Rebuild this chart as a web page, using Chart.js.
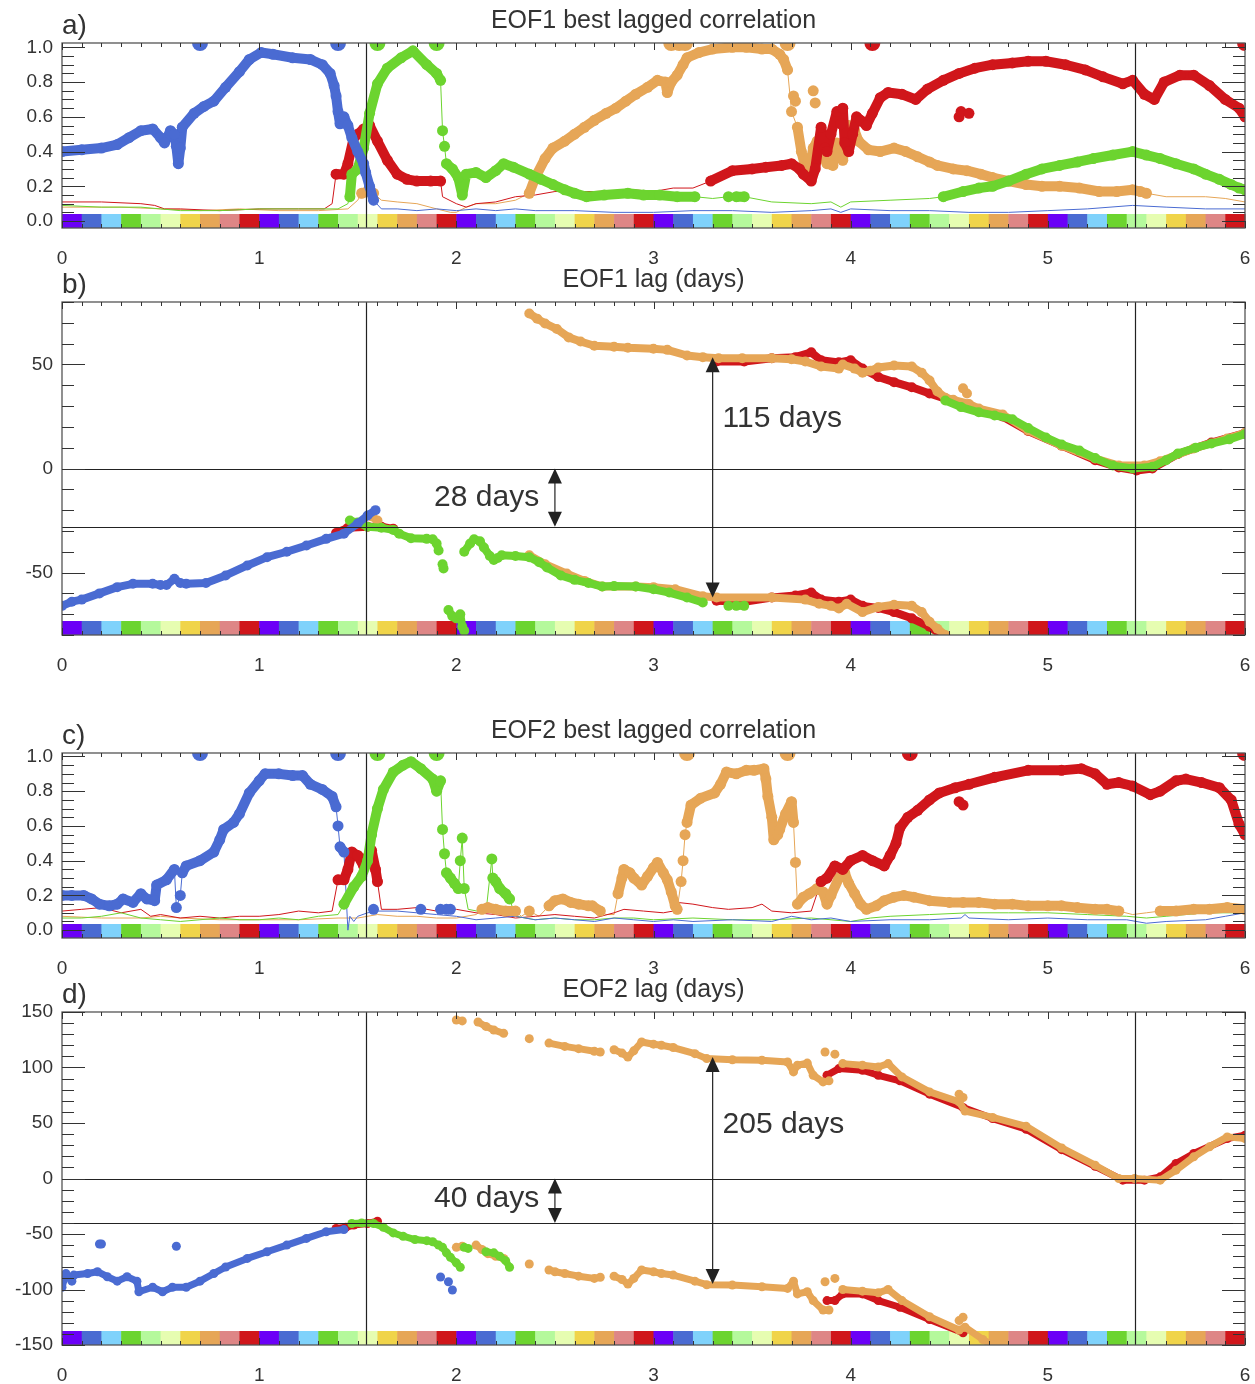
<!DOCTYPE html>
<html>
<head>
<meta charset="utf-8">
<script src="https://cdn.jsdelivr.net/npm/chart.js@4.4.1/dist/chart.umd.min.js"></script>
<style>
  body { margin: 0; background: #fff; width: 1255px; height: 1384px; position: relative; overflow: hidden; }
  canvas { position: absolute; left: 0; }
</style>
</head>
<body>
<canvas id="pa" width="1255" height="272" style="top:0px"></canvas>
<canvas id="pb" width="1255" height="434" style="top:250px"></canvas>
<canvas id="pc" width="1255" height="300" style="top:684px"></canvas>
<canvas id="pd" width="1255" height="425" style="top:960px"></canvas>
<script>
// ---- data ----
// [x, y, t]  t: 1 = best (thick dots), 2 = dot with thin joins, 0 = thin line only
const xTicks = [0, 1, 2, 3, 4, 5, 6];
const stripStep = 0.1;
const stripColors = ['#6b00f7', '#4a6bd2', '#7fd2fb', '#6cd42f', '#b5f99c', '#e6fdb1', '#f0d44a', '#e6a657', '#de8686', '#d0161b'];
const vLines = [1.54, 5.44];

// a) EOF1 best lagged correlation
const aBlue = [[0,0.40,1],[0.1,0.41,1],[0.2,0.42,1],[0.28,0.44,1],[0.34,0.48,1],[0.40,0.52,1],[0.46,0.53,1],[0.50,0.48,1],[0.52,0.45,1],[0.55,0.52,1],[0.57,0.50,1],[0.58,0.43,1],[0.59,0.33,1],[0.60,0.42,1],[0.61,0.54,1],[0.67,0.62,1],[0.72,0.66,1],[0.77,0.69,1],[0.83,0.77,1],[0.90,0.86,1],[0.95,0.93,1],[1.01,0.97,1],[1.07,0.96,1],[1.17,0.94,1],[1.26,0.93,1],[1.32,0.90,1],[1.36,0.85,1],[1.38,0.78,1],[1.39,0.72,1],[1.40,0.63,1],[1.41,0.56,1],[1.43,0.60,1],[1.45,0.55,1],[1.47,0.48,1],[1.50,0.40,1],[1.53,0.33,1],[1.54,0.28,1],[1.56,0.20,1],[1.58,0.12,1],[1.62,0.07,0],[1.7,0.07,0],[1.8,0.06,0],[1.9,0.07,0],[2.0,0.06,0],[2.1,0.07,0],[2.2,0.06,0],[2.3,0.07,0],[2.4,0.06,0],[2.6,0.06,0],[2.8,0.05,0],[3.0,0.05,0],[3.2,0.06,0],[3.4,0.06,0],[3.6,0.05,0],[3.8,0.06,0],[3.9,0.07,0],[3.95,0.05,0],[4.0,0.07,0],[4.2,0.06,0],[4.4,0.06,0],[4.6,0.05,0],[4.8,0.05,0],[5.0,0.06,0],[5.2,0.07,0],[5.43,0.09,0],[5.6,0.08,0],[5.8,0.07,0],[6.0,0.07,0]];
const aRed = [[0,0.11,0],[0.2,0.11,0],[0.4,0.10,0],[0.47,0.09,0],[0.52,0.07,0],[0.6,0.07,0],[0.8,0.06,0],[1.0,0.07,0],[1.2,0.07,0],[1.33,0.07,0],[1.37,0.10,0],[1.39,0.27,1],[1.43,0.27,1],[1.45,0.33,1],[1.48,0.48,1],[1.50,0.50,1],[1.53,0.53,1],[1.56,0.55,1],[1.60,0.46,1],[1.65,0.35,1],[1.70,0.27,1],[1.75,0.24,1],[1.80,0.23,1],[1.87,0.23,1],[1.92,0.23,1],[1.93,0.14,0],[2.0,0.10,0],[2.05,0.08,0],[2.1,0.10,0],[2.2,0.11,0],[2.3,0.14,0],[2.4,0.15,0],[2.5,0.17,0],[2.7,0.17,0],[2.9,0.18,0],[3.0,0.17,0],[3.1,0.19,0],[3.2,0.19,0],[3.29,0.23,1],[3.40,0.29,1],[3.50,0.30,1],[3.57,0.31,1],[3.65,0.32,1],[3.70,0.33,1],[3.74,0.30,1],[3.76,0.27,1],[3.80,0.23,1],[3.82,0.30,1],[3.85,0.54,1],[3.87,0.42,1],[3.88,0.40,1],[3.90,0.50,1],[3.93,0.63,1],[3.95,0.56,1],[3.96,0.65,1],[3.97,0.45,1],[3.99,0.40,1],[4.01,0.50,1],[4.03,0.60,1],[4.05,0.58,1],[4.08,0.55,1],[4.11,0.62,1],[4.15,0.71,1],[4.19,0.74,1],[4.26,0.73,1],[4.33,0.70,1],[4.39,0.76,1],[4.47,0.81,1],[4.55,0.85,1],[4.63,0.88,1],[4.72,0.90,1],[4.82,0.91,1],[4.90,0.92,1],[4.99,0.92,1],[5.09,0.90,1],[5.19,0.87,1],[5.28,0.83,1],[5.38,0.79,1],[5.43,0.81,1],[5.49,0.73,1],[5.54,0.70,1],[5.59,0.80,1],[5.67,0.84,1],[5.74,0.84,1],[5.82,0.78,1],[5.90,0.70,1],[5.97,0.65,1],[6.0,0.60,1]];
const aGreen = [[0,0.09,0],[0.2,0.08,0],[0.4,0.08,0],[0.5,0.07,0],[0.6,0.06,0],[0.8,0.06,0],[1.0,0.07,0],[1.2,0.07,0],[1.4,0.07,0],[1.45,0.10,0],[1.46,0.14,1],[1.47,0.27,1],[1.50,0.30,1],[1.53,0.42,1],[1.56,0.62,1],[1.60,0.79,1],[1.65,0.88,1],[1.72,0.94,1],[1.78,0.98,1],[1.85,0.90,1],[1.90,0.85,1],[1.92,0.81,1],[1.93,0.52,2],[1.94,0.43,2],[1.95,0.33,1],[1.98,0.30,1],[2.01,0.25,1],[2.03,0.15,1],[2.05,0.27,1],[2.10,0.28,1],[2.15,0.25,1],[2.20,0.29,1],[2.24,0.33,1],[2.29,0.31,1],[2.37,0.27,1],[2.43,0.24,1],[2.49,0.21,1],[2.55,0.18,1],[2.60,0.16,1],[2.66,0.14,1],[2.75,0.15,1],[2.87,0.16,1],[2.95,0.15,1],[3.03,0.15,1],[3.12,0.14,1],[3.21,0.14,1],[3.30,0.13,0],[3.38,0.14,2],[3.42,0.14,1],[3.46,0.14,1],[3.6,0.11,0],[3.8,0.10,0],[3.9,0.11,0],[3.95,0.08,0],[4.0,0.11,0],[4.2,0.12,0],[4.4,0.13,0],[4.47,0.14,1],[4.57,0.17,1],[4.65,0.19,1],[4.72,0.20,1],[4.80,0.23,1],[4.89,0.27,1],[4.97,0.30,1],[5.06,0.32,1],[5.15,0.34,1],[5.23,0.36,1],[5.33,0.38,1],[5.43,0.40,1],[5.50,0.38,1],[5.57,0.36,1],[5.65,0.33,1],[5.74,0.30,1],[5.80,0.27,1],[5.87,0.24,1],[5.93,0.21,1],[5.97,0.19,1],[6.0,0.18,1]];
const aOrange = [[0,0.08,0],[0.3,0.08,0],[0.5,0.07,0],[0.7,0.06,0],[0.9,0.07,0],[1.1,0.06,0],[1.3,0.06,0],[1.45,0.07,0],[1.50,0.12,0],[1.52,0.16,1],[1.55,0.17,1],[1.58,0.16,1],[1.62,0.12,0],[1.7,0.11,0],[1.8,0.10,0],[1.9,0.07,0],[1.97,0.05,0],[2.0,0.05,0],[2.05,0.08,0],[2.1,0.10,0],[2.2,0.10,0],[2.3,0.12,0],[2.37,0.16,1],[2.40,0.25,1],[2.45,0.36,1],[2.49,0.42,1],[2.55,0.46,1],[2.60,0.50,1],[2.65,0.54,1],[2.70,0.58,1],[2.76,0.62,1],[2.81,0.65,1],[2.86,0.69,1],[2.91,0.73,1],[2.97,0.77,1],[3.02,0.81,1],[3.06,0.80,1],[3.07,0.74,1],[3.09,0.80,1],[3.12,0.84,1],[3.15,0.90,1],[3.17,0.94,1],[3.23,0.97,1],[3.30,0.99,1],[3.40,1.0,1],[3.47,1.0,1],[3.55,0.99,1],[3.60,0.99,1],[3.64,0.96,1],[3.66,0.93,1],[3.68,0.87,1],[3.70,0.63,2],[3.73,0.54,1],[3.75,0.40,1],[3.77,0.31,1],[3.79,0.30,1],[3.81,0.42,1],[3.83,0.46,1],[3.86,0.37,1],[3.88,0.33,1],[3.91,0.32,1],[3.93,0.45,1],[3.96,0.35,1],[3.99,0.55,1],[4.02,0.52,1],[4.04,0.46,1],[4.09,0.41,1],[4.15,0.40,1],[4.22,0.42,1],[4.28,0.40,1],[4.34,0.37,1],[4.40,0.34,1],[4.44,0.32,1],[4.52,0.30,1],[4.59,0.29,1],[4.66,0.27,1],[4.72,0.25,1],[4.80,0.23,1],[4.89,0.21,1],[4.97,0.20,1],[5.06,0.20,1],[5.16,0.19,1],[5.26,0.17,1],[5.35,0.17,1],[5.43,0.18,1],[5.47,0.17,1],[5.50,0.16,1],[5.6,0.14,0],[5.8,0.14,0],[5.9,0.13,0],[6.0,0.11,0]];
const aRedOut = [[4.55,0.60],[4.56,0.63],[4.60,0.62]];
const aOrangeOut = [[3.71,0.72],[3.72,0.69],[3.81,0.75],[3.82,0.68]];
const aBlueTop = [0.70, 1.40];
const aGreenTop = [1.60, 1.90];
const aOrangeTop = [3.09, 3.13, 3.16, 3.68];
const aRedTop = [4.11, 6.0];

// b) EOF1 lag (days)
const bBlue = [[0,-66],[0.05,-64],[0.1,-63],[0.19,-60],[0.28,-57],[0.36,-55.4],[0.46,-55.4],[0.50,-56],[0.53,-56],[0.57,-53],[0.60,-55],[0.63,-55.4],[0.73,-55],[0.83,-51.4],[0.94,-46.6],[1.04,-42.6],[1.14,-40],[1.24,-37],[1.34,-33.8],[1.43,-31.3],[1.50,-26.4],[1.55,-22.6],[1.59,-20]];
const bRed = [[1.39,-31],[1.45,-28.5],[1.55,-28],[1.62,-28],[1.68,-29],[2.5,null],[3.32,-63.5],[3.46,-64],[3.6,-62],[3.72,-61],[3.80,-59.6],[3.85,-63],[3.94,-64],[4.0,-63],[4.06,-66],[4.14,-67],[4.22,-69],[4.31,-72],[4.40,-76],[4.46,-80],[4.5,null],[3.32,51.4],[3.46,51.4],[3.6,53],[3.72,53.5],[3.80,55.8],[3.85,52],[3.94,51],[4.0,52],[4.06,48],[4.14,44],[4.22,41.5],[4.31,39],[4.40,36],[4.48,33.5],[4.56,31],[4.65,28],[4.77,25],[4.90,18],[5.07,11],[5.24,4],[5.36,0.5],[5.45,-1],[5.53,0],[5.66,7],[5.83,12.5],[6.0,17]];
const bOrange = [[1.57,-23],[1.60,-25],[2.0,null],[2.37,-41.7],[2.45,-46],[2.56,-50.5],[2.65,-54],[2.74,-56.7],[2.91,-56.7],[3.00,-57],[3.11,-58],[3.25,-61.4],[3.32,-62],[3.60,-62],[3.77,-63],[3.84,-65],[3.90,-66],[3.94,-67.3],[3.98,-65],[4.06,-69],[4.14,-66.5],[4.22,-65.5],[4.31,-66],[4.36,-69],[4.40,-73.6],[4.44,-77],[4.48,-80],[4.5,null],[2.37,74.5],[2.41,72],[2.45,69.7],[2.51,67],[2.57,63],[2.63,61],[2.70,59],[2.80,58.5],[2.87,58],[3.00,57.5],[3.07,57],[3.17,54.3],[3.25,53.5],[3.33,53],[3.45,53],[3.60,53],[3.70,52.5],[3.77,51.4],[3.85,49],[3.94,48],[3.96,50],[4.02,48],[4.06,46],[4.10,47],[4.14,48.5],[4.22,49.5],[4.31,49],[4.36,46],[4.40,42.3],[4.44,37],[4.48,34],[4.52,33],[4.60,31],[4.65,28.8],[4.77,26],[4.90,18.3],[5.07,11],[5.24,4.8],[5.36,1.4],[5.49,1.4],[5.57,3.5],[5.74,9.6],[5.91,14.4],[6.0,17]];
const bGreen = [[1.46,-25],[1.50,-26],[1.55,-28],[1.62,-28.5],[1.68,-29.5],[1.71,-31.3],[1.77,-33.5],[1.85,-33.8],[1.88,-34],[1.90,-36],[1.91,-39.4],[1.92,null],[1.93,-46],[1.935,-48],[1.94,null],[1.96,-68],[1.98,-71],[2.00,-72],[2.02,-70],[2.03,-76],[2.04,-78],[2.04,null],[2.04,-40],[2.07,-36],[2.09,-34],[2.12,-35],[2.14,-38],[2.17,-42],[2.19,-44],[2.21,-43],[2.23,-41.7],[2.30,-42],[2.37,-42.6],[2.42,-45],[2.46,-47.6],[2.53,-51.4],[2.60,-53.5],[2.67,-55],[2.74,-56.7],[2.80,-56.5],[2.91,-56.7],[3.00,-58],[3.08,-59.6],[3.17,-62],[3.25,-64.4],[3.3,null],[3.38,-66],[3.4,null],[3.42,-66],[3.46,-66],[3.5,null],[4.48,32.7],[4.56,29.5],[4.65,27],[4.73,25.5],[4.82,23.7],[4.90,19.5],[4.99,14.9],[5.07,11.5],[5.16,8.6],[5.24,5],[5.33,1.4],[5.43,0],[5.53,0.8],[5.60,4],[5.66,7.2],[5.75,10],[5.83,12],[5.92,14],[6.0,16.5]];
const bOrangeOut = [[4.57,38.5],[4.59,36]];
const bArrows = [[3.30, 53.4, -62], [2.50, 0, -28]];
const bNotes = [[3.35, 24, '115 days', 'left'], [2.42, -14, '28 days', 'right']];
const bHLines = [0, -28];

// c) EOF2 best lagged correlation
const cBlue = [[0,0.20,1],[0.05,0.20,1],[0.11,0.20,1],[0.15,0.18,1],[0.19,0.15,1],[0.24,0.14,1],[0.28,0.15,1],[0.31,0.18,1],[0.36,0.16,1],[0.40,0.21,1],[0.43,0.18,1],[0.47,0.17,1],[0.48,0.26,1],[0.53,0.29,1],[0.57,0.35,1],[0.58,0.13,2],[0.60,0.20,2],[0.61,0.33,1],[0.63,0.37,1],[0.70,0.40,1],[0.77,0.45,1],[0.80,0.52,1],[0.82,0.58,1],[0.87,0.62,1],[0.90,0.67,1],[0.95,0.79,1],[1.00,0.86,1],[1.03,0.90,1],[1.10,0.90,1],[1.17,0.89,1],[1.22,0.89,1],[1.26,0.84,1],[1.32,0.81,1],[1.37,0.77,1],[1.39,0.71,1],[1.40,0.60,2],[1.41,0.48,1],[1.43,0.45,1],[1.45,0.0,0],[1.46,0.08,0],[1.48,0.05,0],[1.50,0.08,0],[1.55,0.10,0],[1.6,0.11,0],[1.7,0.11,0],[1.8,0.10,0],[1.9,0.09,0],[2.0,0.08,0],[2.1,0.06,0],[2.2,0.07,0],[2.3,0.08,0],[2.4,0.06,0],[2.5,0.07,0],[2.6,0.06,0],[2.7,0.05,0],[2.8,0.07,0],[2.9,0.06,0],[3.0,0.05,0],[3.1,0.06,0],[3.2,0.05,0],[3.4,0.06,0],[3.6,0.05,0],[3.7,0.08,0],[3.8,0.06,0],[3.9,0.07,0],[4.0,0.05,0],[4.2,0.06,0],[4.4,0.06,0],[4.56,0.07,0],[4.58,0.09,0],[4.60,0.07,0],[4.8,0.06,0],[5.0,0.07,0],[5.2,0.06,0],[5.4,0.06,0],[5.5,0.04,0],[5.6,0.05,0],[5.8,0.06,0],[5.9,0.08,0],[6.0,0.10,0]];
const cRed = [[0,0.11,0],[0.1,0.12,0],[0.2,0.13,0],[0.3,0.10,0],[0.4,0.12,0],[0.45,0.08,0],[0.5,0.09,0],[0.6,0.07,0],[0.7,0.08,0],[0.8,0.07,0],[0.9,0.08,0],[1.0,0.08,0],[1.1,0.09,0],[1.2,0.11,0],[1.3,0.10,0],[1.37,0.11,0],[1.40,0.29,1],[1.43,0.29,1],[1.45,0.35,1],[1.47,0.45,1],[1.50,0.43,1],[1.53,0.37,1],[1.55,0.42,1],[1.57,0.46,1],[1.59,0.35,1],[1.60,0.28,1],[1.62,0.12,0],[1.7,0.12,0],[1.8,0.13,0],[1.9,0.11,0],[2.0,0.12,0],[2.1,0.10,0],[2.2,0.09,0],[2.3,0.07,0],[2.4,0.08,0],[2.5,0.09,0],[2.6,0.08,0],[2.7,0.07,0],[2.8,0.10,0],[2.85,0.12,0],[2.95,0.11,0],[3.05,0.10,0],[3.10,0.11,0],[3.12,0.16,0],[3.2,0.15,0],[3.3,0.13,0],[3.38,0.12,0],[3.5,0.13,0],[3.55,0.15,0],[3.6,0.11,0],[3.7,0.10,0],[3.8,0.11,0],[3.85,0.28,1],[3.88,0.30,1],[3.92,0.37,1],[3.96,0.35,1],[4.00,0.40,1],[4.06,0.43,1],[4.11,0.40,1],[4.17,0.37,1],[4.20,0.43,1],[4.23,0.50,1],[4.25,0.59,1],[4.29,0.65,1],[4.34,0.69,1],[4.40,0.75,1],[4.45,0.79,1],[4.53,0.82,1],[4.60,0.84,1],[4.73,0.88,1],[4.90,0.92,1],[5.07,0.92,1],[5.17,0.93,1],[5.24,0.90,1],[5.30,0.84,1],[5.36,0.85,1],[5.43,0.83,1],[5.52,0.78,1],[5.57,0.80,1],[5.65,0.86,1],[5.70,0.87,1],[5.78,0.85,1],[5.87,0.82,1],[5.93,0.75,1],[5.97,0.61,1],[6.0,0.55,1]];
const cGreen = [[0,0.07,0],[0.1,0.07,0],[0.2,0.08,0],[0.3,0.10,0],[0.4,0.07,0],[0.5,0.06,0],[0.6,0.05,0],[0.7,0.06,0],[0.8,0.07,0],[0.9,0.06,0],[1.0,0.06,0],[1.1,0.07,0],[1.2,0.06,0],[1.3,0.08,0],[1.4,0.09,0],[1.43,0.15,1],[1.48,0.25,1],[1.52,0.31,1],[1.55,0.40,1],[1.57,0.55,1],[1.60,0.70,1],[1.63,0.81,1],[1.68,0.91,1],[1.73,0.95,1],[1.77,0.97,1],[1.82,0.93,1],[1.88,0.87,1],[1.90,0.80,1],[1.92,0.86,1],[1.93,0.58,2],[1.94,0.44,2],[1.95,0.33,1],[1.97,0.30,1],[1.99,0.27,1],[2.01,0.24,1],[2.02,0.40,2],[2.03,0.53,2],[2.04,0.24,2],[2.06,0.12,0],[2.15,0.10,0],[2.18,0.41,2],[2.185,0.30,1],[2.20,0.28,1],[2.22,0.24,1],[2.25,0.21,1],[2.27,0.18,1],[2.3,0.08,0],[2.4,0.06,0],[2.5,0.07,0],[2.6,0.06,0],[2.7,0.06,0],[2.8,0.07,0],[2.9,0.07,0],[3.0,0.06,0],[3.2,0.07,0],[3.4,0.06,0],[3.6,0.06,0],[3.8,0.07,0],[4.0,0.05,0],[4.1,0.07,0],[4.2,0.08,0],[4.4,0.09,0],[4.6,0.10,0],[4.8,0.10,0],[5.0,0.10,0],[5.2,0.09,0],[5.4,0.08,0],[5.5,0.07,0],[5.6,0.08,0],[5.8,0.10,0],[6.0,0.10,0]];
const cOrange = [[0,0.08,0],[0.2,0.07,0],[0.4,0.07,0],[0.5,0.08,0],[0.6,0.07,0],[0.8,0.06,0],[1.0,0.06,0],[1.2,0.06,0],[1.4,0.07,0],[1.5,0.07,0],[1.6,0.09,0],[1.7,0.08,0],[1.8,0.08,0],[1.9,0.07,0],[2.0,0.07,0],[2.1,0.09,0],[2.13,0.12,1],[2.16,0.13,1],[2.20,0.12,1],[2.25,0.11,1],[2.30,0.11,1],[2.33,0.08,0],[2.37,0.11,2],[2.42,0.08,0],[2.47,0.14,1],[2.50,0.17,1],[2.54,0.18,1],[2.58,0.16,1],[2.62,0.15,1],[2.67,0.14,1],[2.69,0.14,1],[2.73,0.11,1],[2.76,0.09,0],[2.80,0.09,0],[2.82,0.21,1],[2.84,0.30,1],[2.85,0.35,1],[2.88,0.33,1],[2.90,0.30,1],[2.94,0.26,1],[2.97,0.31,1],[3.00,0.36,1],[3.02,0.39,1],[3.05,0.33,1],[3.07,0.29,1],[3.09,0.22,1],[3.11,0.14,1],[3.12,0.12,1],[3.14,0.28,2],[3.15,0.40,2],[3.16,0.55,2],[3.17,0.62,1],[3.19,0.72,1],[3.24,0.76,1],[3.31,0.79,1],[3.34,0.84,1],[3.37,0.91,1],[3.42,0.90,1],[3.47,0.92,1],[3.51,0.92,1],[3.56,0.93,1],[3.57,0.87,1],[3.58,0.77,1],[3.60,0.65,1],[3.61,0.52,1],[3.63,0.55,1],[3.64,0.58,1],[3.67,0.67,1],[3.70,0.74,1],[3.71,0.62,1],[3.72,0.39,2],[3.73,0.15,1],[3.76,0.19,1],[3.79,0.21,1],[3.83,0.24,1],[3.86,0.22,1],[3.88,0.15,1],[3.90,0.20,1],[3.94,0.30,1],[3.97,0.33,1],[3.99,0.27,1],[4.02,0.21,1],[4.05,0.15,1],[4.08,0.12,1],[4.13,0.14,1],[4.17,0.17,1],[4.22,0.19,1],[4.27,0.20,1],[4.32,0.19,1],[4.40,0.17,1],[4.50,0.16,1],[4.57,0.16,1],[4.65,0.16,1],[4.73,0.15,1],[4.82,0.15,1],[4.90,0.14,1],[5.00,0.14,1],[5.07,0.14,1],[5.15,0.13,1],[5.24,0.12,1],[5.30,0.12,1],[5.36,0.11,1],[5.43,0.09,0],[5.5,0.10,0],[5.57,0.11,1],[5.65,0.11,1],[5.74,0.12,1],[5.82,0.12,1],[5.91,0.13,1],[6.0,0.12,1]];
const cBlueOut = [[1.58,0.12],[1.82,0.12],[1.92,0.12],[1.95,0.12],[1.97,0.12]];
const cRedOut = [[4.55,0.74],[4.57,0.72]];
const cBlueTop = [0.70, 1.40];
const cGreenTop = [1.60, 1.90];
const cOrangeTop = [3.17, 3.68];
const cRedTop = [4.30, 6.0];

// d) EOF2 lag (days)
const dBlue = [[0,-98],[0.02,-85.6],[0.05,-92.5],[0.06,-87],[0.13,-85.6],[0.18,-84],[0.23,-88.5],[0.28,-92.5],[0.33,-88.5],[0.38,-92.5],[0.39,-102],[0.46,-98],[0.51,-102],[0.56,-98],[0.63,-98],[0.70,-92.5],[0.77,-85.6],[0.83,-79.7],[0.94,-72],[1.04,-66],[1.14,-60],[1.24,-54],[1.34,-48],[1.43,-46]];
const dRed = [[1.39,-45],[1.44,-44],[1.48,-42],[1.55,-40.5],[1.60,-38.5],[2.0,null],[3.88,-110],[3.92,-110],[3.96,-104],[4.06,-104],[4.14,-110],[4.25,-116],[4.40,-127],[4.57,-139],[4.58,-136],[4.6,null],[3.88,93],[3.94,99],[4.06,97.5],[4.14,93],[4.25,88],[4.40,76],[4.57,64],[4.72,54],[4.89,44.4],[5.07,26],[5.24,11],[5.38,-1.5],[5.49,-1.5],[5.57,1.5],[5.65,13.5],[5.74,22.5],[5.91,36],[6.0,39]];
const dGreen = [[1.47,-40.5],[1.52,-40],[1.58,-40.5],[1.63,-44],[1.68,-49],[1.73,-52],[1.79,-55],[1.85,-56],[1.88,-57],[1.91,-60],[1.93,-62],[1.95,-67],[1.97,-71],[2.00,-76],[2.02,-80],[2.03,null],[2.04,-62],[2.06,-63],[2.1,null],[2.15,-66],[2.19,-67],[2.22,-70],[2.25,-74],[2.27,-80]];
const dOrange = [[2.00,-62],[2.03,-61],[2.06,null],[2.10,-60],[2.13,-64],[2.16,-67.7],[2.20,-70],[2.24,-72],[2.3,null],[2.37,-77],[2.4,null],[2.47,-82.4],[2.50,-84],[2.55,-85.6],[2.62,-88],[2.70,-90],[2.73,-89],[2.76,null],[2.80,-88],[2.84,-91],[2.87,-95],[2.90,-90],[2.94,-82.4],[3.00,-84],[3.04,-85.6],[3.10,-87],[3.21,-92.5],[3.27,-95.7],[3.40,-96],[3.55,-97.5],[3.68,-99],[3.71,-92.5],[3.73,-104],[3.78,-102],[3.81,-110],[3.86,-118.5],[3.89,-118.5],[3.92,null],[3.96,-100],[4.06,-101.5],[4.14,-103],[4.19,-100],[4.26,-110],[4.40,-124.5],[4.55,-136.5],[4.58,-134],[4.67,-145],[4.72,-150],[4.8,null],[2.00,142.8],[2.03,142],[2.06,null],[2.11,141],[2.15,137],[2.19,133.8],[2.24,130.8],[2.3,null],[2.37,126],[2.4,null],[2.47,122],[2.55,119],[2.62,117],[2.70,114.6],[2.73,114],[2.76,null],[2.80,116],[2.84,113],[2.87,109.5],[2.90,115],[2.94,123],[3.00,121],[3.04,120],[3.10,118],[3.21,112.5],[3.27,108],[3.40,107],[3.55,106.5],[3.68,105],[3.71,96],[3.73,102],[3.78,104],[3.81,93],[3.86,87],[3.89,88],[3.92,null],[3.96,103.5],[4.06,102],[4.14,100.5],[4.19,103.5],[4.26,91.5],[4.40,78],[4.55,69],[4.58,60.8],[4.72,55],[4.89,47],[5.07,27.5],[5.24,12],[5.36,0],[5.44,0],[5.57,-1.5],[5.65,7.5],[5.74,19.5],[5.82,28.5],[5.91,37.5],[6.0,36]];
const dBlueOut = [[0.19,-59],[0.20,-59],[0.58,-61],[1.92,-88.7],[1.96,-93],[1.98,-100.5]];
const dOrangeOut = [[3.87,114],[3.92,112],[3.87,-93],[3.92,-90],[4.55,76],[4.57,73],[4.55,-128],[4.57,-125]];
const dArrows = [[3.30, 109.5, -95], [2.50, 0, -40]];
const dNotes = [[3.35, 48, '205 days', 'left'], [2.42, -18, '40 days', 'right']];
const dHLines = [0, -40];

// ---- drawing ----
const BLUE = '#4a6bd2', RED = '#d0161b', GREEN = '#6cd42f', ORANGE = '#e6a657';
const FONT = "'Liberation Sans', Arial, sans-serif";
const INK = '#333';

function flag(p) { return p && p.length > 2 ? p[2] : 1; }

function seriesSets(arr, color, rank, w, r, withThin) {
  const pts = arr.map(p => ({ x: p[0], y: p[1] }));
  const sets = [];
  if (withThin) {
    sets.push({ data: pts, showLine: true, borderColor: color, borderWidth: 1, pointRadius: 0, order: 20 + rank });
  }
  sets.push({
    data: pts, showLine: true, order: rank,
    borderColor: color, borderWidth: w, borderCapStyle: 'round', borderJoinStyle: 'round',
    segment: {
      borderColor: ctx => (flag(arr[ctx.p0DataIndex]) === 1 && flag(arr[ctx.p1DataIndex]) === 1) ? color : 'rgba(0,0,0,0)'
    },
    pointRadius: ctx => { const p = arr[ctx.dataIndex]; return p && flag(p) >= 1 ? r : 0; },
    pointBackgroundColor: color, pointBorderWidth: 0
  });
  return sets;
}

function outSet(arr, color, r) {
  return { data: arr.map(p => ({ x: p[0], y: p[1] })), showLine: false, pointRadius: r,
    pointBackgroundColor: color, pointBorderWidth: 0, order: 1 };
}

function topSet(xs, color, yMax) {
  return { data: xs.map(v => ({ x: v, y: yMax })), showLine: false, pointRadius: 8,
    pointBackgroundColor: color, pointBorderWidth: 0, clip: 0, order: 1 };
}

function drawArrow(ctx, px, y1, y2) {
  const hl = 15, hw = 7;
  ctx.beginPath();
  ctx.moveTo(px, y1 + hl - 2);
  ctx.lineTo(px, y2 - hl + 2);
  ctx.stroke();
  ctx.beginPath();
  ctx.moveTo(px, y1); ctx.lineTo(px - hw, y1 + hl); ctx.lineTo(px + hw, y1 + hl); ctx.closePath();
  ctx.fill();
  ctx.beginPath();
  ctx.moveTo(px, y2); ctx.lineTo(px - hw, y2 - hl); ctx.lineTo(px + hw, y2 - hl); ctx.closePath();
  ctx.fill();
}

function panelPlugin(p) {
  return {
    id: 'panel',
    beforeDatasetsDraw(chart) {
      const { ctx, chartArea: a, scales: { x } } = chart;
      ctx.save();
      const n = Math.round((x.max - x.min) / stripStep);
      for (let i = 0; i < n; i++) {
        const x0 = x.getPixelForValue(i * stripStep);
        const x1 = x.getPixelForValue((i + 1) * stripStep);
        ctx.fillStyle = stripColors[i % stripColors.length];
        ctx.fillRect(x0, a.bottom - 14, x1 - x0 + 0.5, 14);
      }
      ctx.restore();
    },
    afterDatasetsDraw(chart) {
      const { ctx, chartArea: a, scales: { x, y } } = chart;
      ctx.save();
      ctx.strokeStyle = '#222';
      ctx.lineWidth = 1.2;
      // reference lines
      vLines.forEach(v => {
        const px = Math.round(x.getPixelForValue(v)) + 0.5;
        ctx.beginPath(); ctx.moveTo(px, a.top); ctx.lineTo(px, a.bottom); ctx.stroke();
      });
      (p.hLines || []).forEach(v => {
        const py = Math.round(y.getPixelForValue(v)) + 0.5;
        ctx.beginPath(); ctx.moveTo(a.left, py); ctx.lineTo(a.right, py); ctx.stroke();
      });
      // frame
      ctx.strokeStyle = '#555';
      ctx.lineWidth = 1.3;
      ctx.strokeRect(a.left, a.top, a.right - a.left, a.bottom - a.top);
      // x ticks (top and bottom, inward)
      ctx.strokeStyle = '#333';
      ctx.lineWidth = 1;
      for (let k = 0; k <= 60; k++) {
        const v = k / 10;
        const px = Math.round(x.getPixelForValue(v)) + 0.5;
        const len = k % 10 === 0 ? 7 : 4;
        ctx.beginPath();
        ctx.moveTo(px, a.top); ctx.lineTo(px, a.top + len);
        ctx.moveTo(px, a.bottom); ctx.lineTo(px, a.bottom - len);
        ctx.stroke();
      }
      // y ticks (left and right, inward)
      const k0 = Math.ceil(y.min / p.minor - 1e-9), k1 = Math.floor(y.max / p.minor + 1e-9);
      for (let k = k0; k <= k1; k++) {
        const v = k * p.minor;
        const isMajor = p.majors.some(m => Math.abs(m - v) < 1e-6);
        const len = isMajor ? 23 : 12;
        const py = Math.round(y.getPixelForValue(v)) + 0.5;
        ctx.beginPath();
        ctx.moveTo(a.left, py); ctx.lineTo(a.left + len, py);
        ctx.moveTo(a.right, py); ctx.lineTo(a.right - len, py);
        ctx.stroke();
      }
      // arrows and notes
      ctx.strokeStyle = '#222';
      ctx.fillStyle = '#222';
      ctx.lineWidth = 1.2;
      (p.arrows || []).forEach(ar => {
        drawArrow(ctx, x.getPixelForValue(ar[0]), y.getPixelForValue(ar[1]), y.getPixelForValue(ar[2]));
      });
      ctx.fillStyle = INK;
      ctx.font = '30px ' + FONT;
      ctx.textBaseline = 'middle';
      (p.notes || []).forEach(nt => {
        ctx.textAlign = nt[3];
        ctx.fillText(nt[2], x.getPixelForValue(nt[0]), y.getPixelForValue(nt[1]));
      });
      ctx.restore();
    },
    afterDraw(chart) {
      const { ctx, chartArea: a } = chart;
      ctx.save();
      ctx.fillStyle = INK;
      ctx.textBaseline = 'middle';
      ctx.font = '25px ' + FONT;
      ctx.textAlign = 'center';
      ctx.fillText(p.title, (a.left + a.right) / 2, a.top - 22);
      ctx.font = '28px ' + FONT;
      ctx.textAlign = 'left';
      ctx.fillText(p.label, a.left, a.top - 17);
      ctx.restore();
    }
  };
}

function makePanel(id, p) {
  new Chart(document.getElementById(id), {
    type: 'scatter',
    data: { datasets: p.datasets },
    options: {
      responsive: false,
      animation: false,
      events: [],
      layout: { autoPadding: false, padding: { left: 0, right: 10, top: p.padTop, bottom: p.padBottom } },
      plugins: { legend: { display: false }, tooltip: { enabled: false } },
      elements: { line: { tension: 0 } },
      scales: {
        x: {
          type: 'linear', min: 0, max: 6,
          afterBuildTicks: s => { s.ticks = xTicks.map(v => ({ value: v })); },
          afterFit: s => { s.height = 40; s.paddingLeft = 0; s.paddingRight = 0; },
          grid: { display: false, drawTicks: false },
          border: { display: false },
          ticks: { padding: 19, color: INK, font: { size: 19, family: FONT }, maxRotation: 0, autoSkip: false }
        },
        y: {
          type: 'linear', min: p.yMin, max: p.yMax,
          afterBuildTicks: s => { s.ticks = p.majors.map(v => ({ value: v })); },
          afterFit: s => { s.width = 62; s.paddingTop = 0; s.paddingBottom = 0; },
          grid: { display: false, drawTicks: false },
          border: { display: false },
          ticks: { padding: 9, color: INK, font: { size: 19, family: FONT }, autoSkip: false,
            callback: v => p.fmt(v) }
        }
      }
    },
    plugins: [panelPlugin(p)]
  });
}

const corrMajors = [0, 0.2, 0.4, 0.6, 0.8, 1.0];

makePanel('pa', {
  title: 'EOF1 best lagged correlation', label: 'a)',
  padTop: 43, padBottom: 4, yMin: -0.04, yMax: 1.025,
  majors: corrMajors, minor: 0.05, fmt: v => v.toFixed(1),
  datasets: [].concat(
    seriesSets(aBlue, BLUE, 2, 10, 5.5, true),
    seriesSets(aGreen, GREEN, 3, 10, 5.5, true),
    seriesSets(aRed, RED, 4, 10, 5.5, true),
    seriesSets(aOrange, ORANGE, 5, 10, 5.5, true),
    [outSet(aRedOut, RED, 5.5), outSet(aOrangeOut, ORANGE, 5.5),
     topSet(aBlueTop, BLUE, 1.025), topSet(aGreenTop, GREEN, 1.025),
     topSet(aOrangeTop, ORANGE, 1.025), topSet(aRedTop, RED, 1.025)]
  )
});

makePanel('pb', {
  title: 'EOF1 lag (days)', label: 'b)',
  padTop: 52, padBottom: 9, yMin: -80, yMax: 80,
  majors: [-50, 0, 50], minor: 10, fmt: v => String(v),
  hLines: bHLines, arrows: bArrows, notes: bNotes,
  datasets: [].concat(
    seriesSets(bBlue, BLUE, 2, 8, 5, false),
    seriesSets(bGreen, GREEN, 3, 8, 5, false),
    seriesSets(bOrange, ORANGE, 4, 8, 5, false),
    seriesSets(bRed, RED, 5, 8, 5, false),
    [outSet(bOrangeOut, ORANGE, 5)]
  )
});

makePanel('pc', {
  title: 'EOF2 best lagged correlation', label: 'c)',
  padTop: 69, padBottom: 6, yMin: -0.045, yMax: 1.02,
  majors: corrMajors, minor: 0.05, fmt: v => v.toFixed(1),
  datasets: [].concat(
    seriesSets(cBlue, BLUE, 2, 10, 5.5, true),
    seriesSets(cGreen, GREEN, 3, 10, 5.5, true),
    seriesSets(cRed, RED, 4, 10, 5.5, true),
    seriesSets(cOrange, ORANGE, 5, 10, 5.5, true),
    [outSet(cBlueOut, BLUE, 5.5), outSet(cRedOut, RED, 5.5),
     topSet(cBlueTop, BLUE, 1.02), topSet(cGreenTop, GREEN, 1.02),
     topSet(cOrangeTop, ORANGE, 1.02), topSet(cRedTop, RED, 1.02)]
  )
});

makePanel('pd', {
  title: 'EOF2 lag (days)', label: 'd)',
  padTop: 52, padBottom: 0, yMin: -150, yMax: 150,
  majors: [-150, -100, -50, 0, 50, 100, 150], minor: 10, fmt: v => String(v),
  hLines: dHLines, arrows: dArrows, notes: dNotes,
  datasets: [].concat(
    seriesSets(dBlue, BLUE, 2, 7, 4.5, false),
    seriesSets(dGreen, GREEN, 3, 7, 4.5, false),
    seriesSets(dOrange, ORANGE, 4, 7, 4.5, false),
    seriesSets(dRed, RED, 5, 7, 4.5, false),
    [outSet(dBlueOut, BLUE, 4.5), outSet(dOrangeOut, ORANGE, 4.5)]
  )
});
</script>
</body>
</html>
